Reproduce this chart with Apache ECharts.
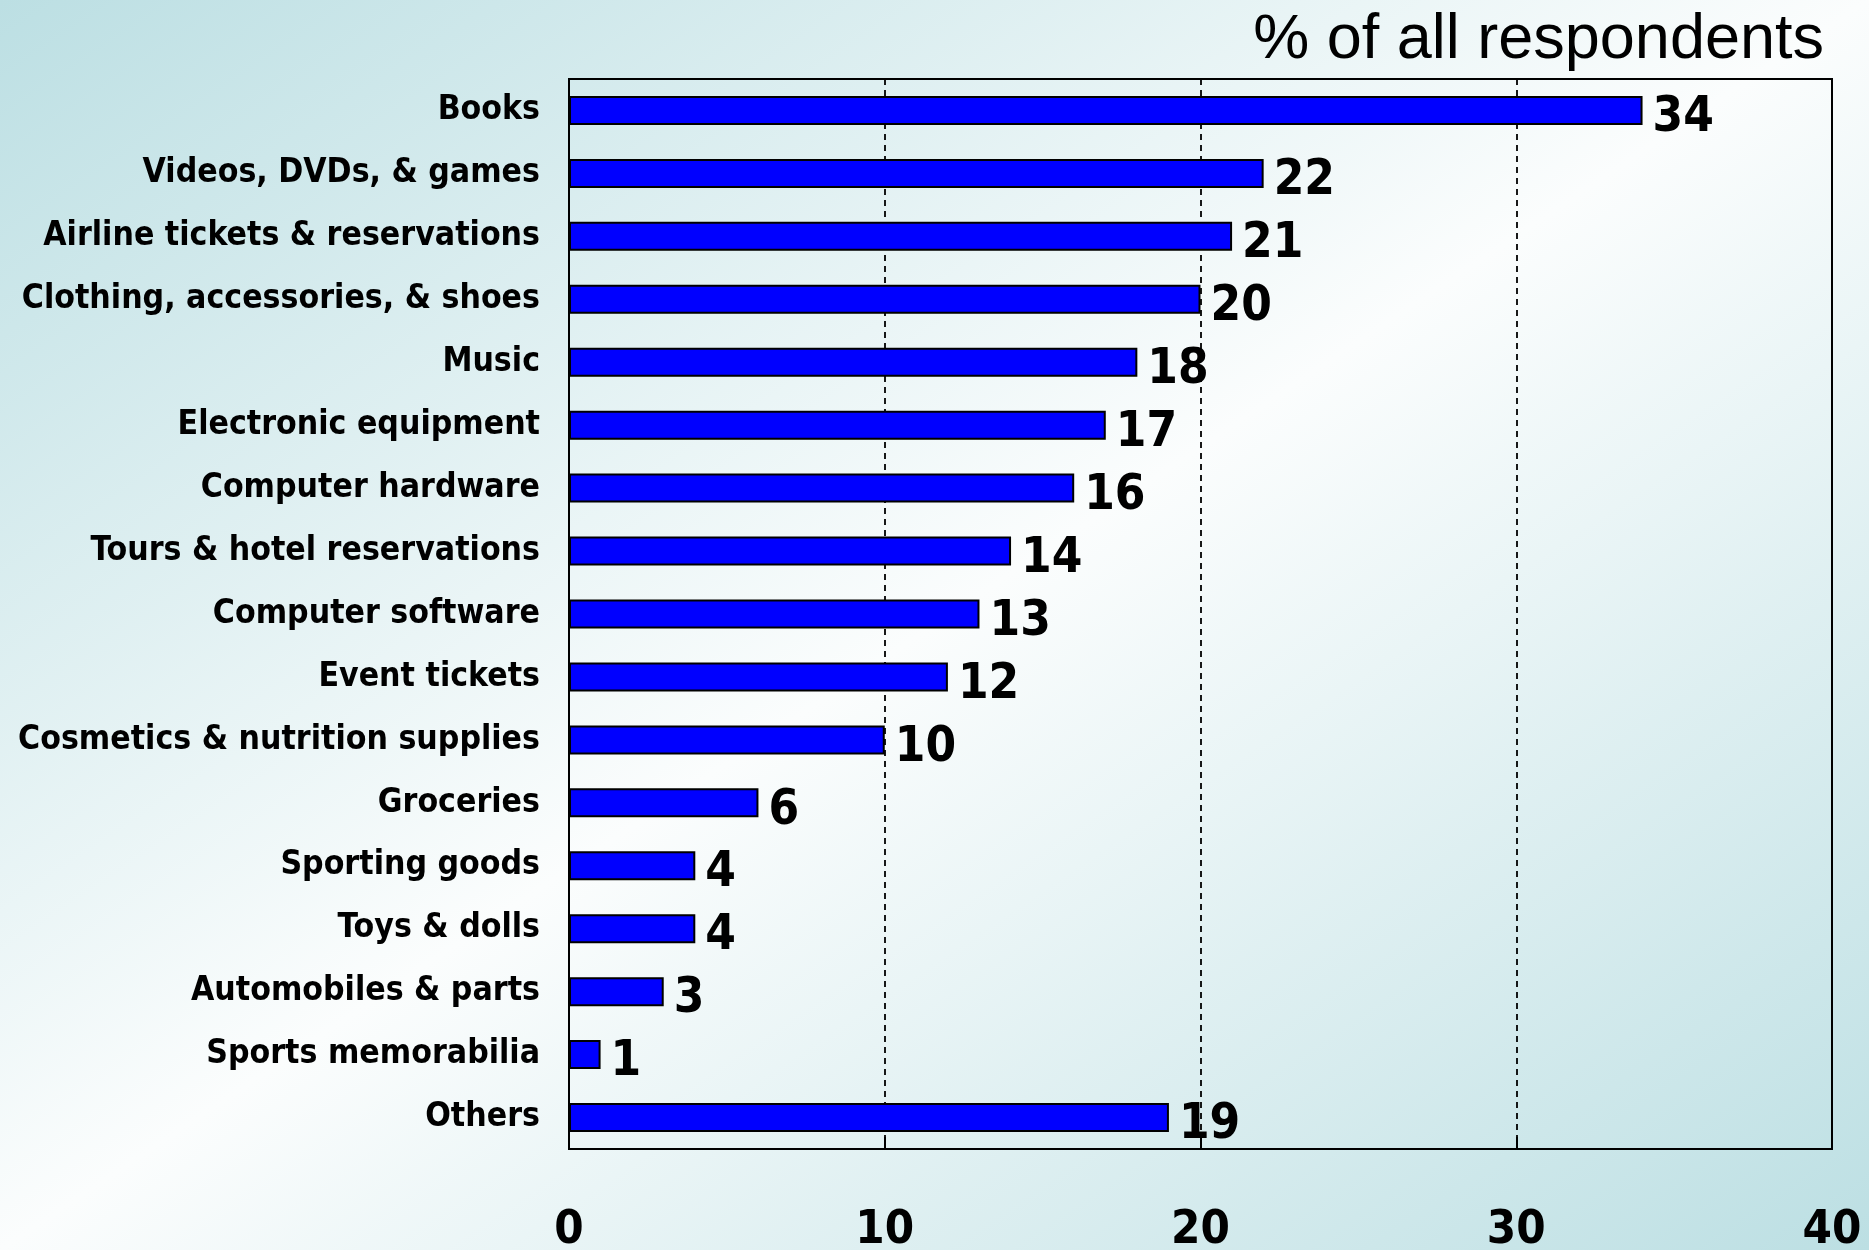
<!DOCTYPE html>
<html>
<head>
<meta charset="utf-8">
<script src="https://cdn.jsdelivr.net/npm/echarts@6/dist/echarts.min.js"></script>
<style>
html,body{margin:0;padding:0;}
#chart{width:1869px;height:1250px;}
</style>
</head>
<body>
<div id="chart"></div>
<script>
const categories = [
  'Books',
  'Videos, DVDs, & games',
  'Airline tickets & reservations',
  'Clothing, accessories, & shoes',
  'Music',
  'Electronic equipment',
  'Computer hardware',
  'Tours & hotel reservations',
  'Computer software',
  'Event tickets',
  'Cosmetics & nutrition supplies',
  'Groceries',
  'Sporting goods',
  'Toys & dolls',
  'Automobiles & parts',
  'Sports memorabilia',
  'Others'
];
const values = [34, 22, 21, 20, 18, 17, 16, 14, 13, 12, 10, 6, 4, 4, 3, 1, 19];
const axisTitle = '% of all respondents';
const xMin = 0, xMax = 40, xStep = 10;

const narrow = "'Liberation Sans Narrow', 'DejaVu Sans Condensed', 'Arial Narrow', sans-serif";

const W = 1869, H = 1250;
const t = 2 * W * H / (W * W + H * H);

const chart = echarts.init(document.getElementById('chart'));
chart.setOption({
  backgroundColor: new echarts.graphic.LinearGradient(0, 0, t * H, t * W, [
    {offset: 0, color: '#bcdfe3'},
    {offset: 0.5, color: '#fbfdfd'},
    {offset: 1, color: '#bcdfe3'}
  ], true),
  animation: false,
  title: {
    text: axisTitle,
    right: 40,
    top: 4,
    textStyle: {
      fontFamily: "'Liberation Sans', Arial, sans-serif",
      fontWeight: 'normal',
      fontSize: 63,
      color: '#000'
    }
  },
  grid: {
    left: 569, right: 37, top: 79, bottom: 101,
    outerBoundsMode: 'none',
    containLabel: false,
    show: true,
    borderColor: '#000',
    borderWidth: 2,
    backgroundColor: 'transparent'
  },
  xAxis: {
    type: 'value',
    min: xMin, max: xMax, interval: xStep,
    axisLine: {show: true, lineStyle: {color: '#000', width: 2}},
    axisTick: {show: true, inside: true, length: 12, lineStyle: {color: '#000', width: 2}},
    splitLine: {show: true, lineStyle: {color: '#000', width: 1.8, type: [6, 5]}},
    axisLabel: {
      margin: 58,
      fontFamily: narrow,
      fontWeight: 'bold',
      fontSize: 47,
      color: '#000'
    }
  },
  yAxis: {
    type: 'category',
    data: categories,
    inverse: true,
    axisLine: {show: true, lineStyle: {color: '#000', width: 2}},
    axisTick: {show: false},
    axisLabel: {
      margin: 29,
      fontFamily: narrow,
      fontWeight: 'bold',
      fontSize: 33.5,
      color: '#000'
    }
  },
  series: [{
    type: 'bar',
    data: values,
    barWidth: 29,
    itemStyle: {color: '#0000ff', borderColor: '#000', borderWidth: 2},
    label: {
      show: true,
      position: 'right',
      distance: 10,
      offset: [0, 8],
      fontFamily: narrow,
      fontWeight: 'bold',
      fontSize: 49,
      color: '#000'
    }
  }]
});
</script>
</body>
</html>
